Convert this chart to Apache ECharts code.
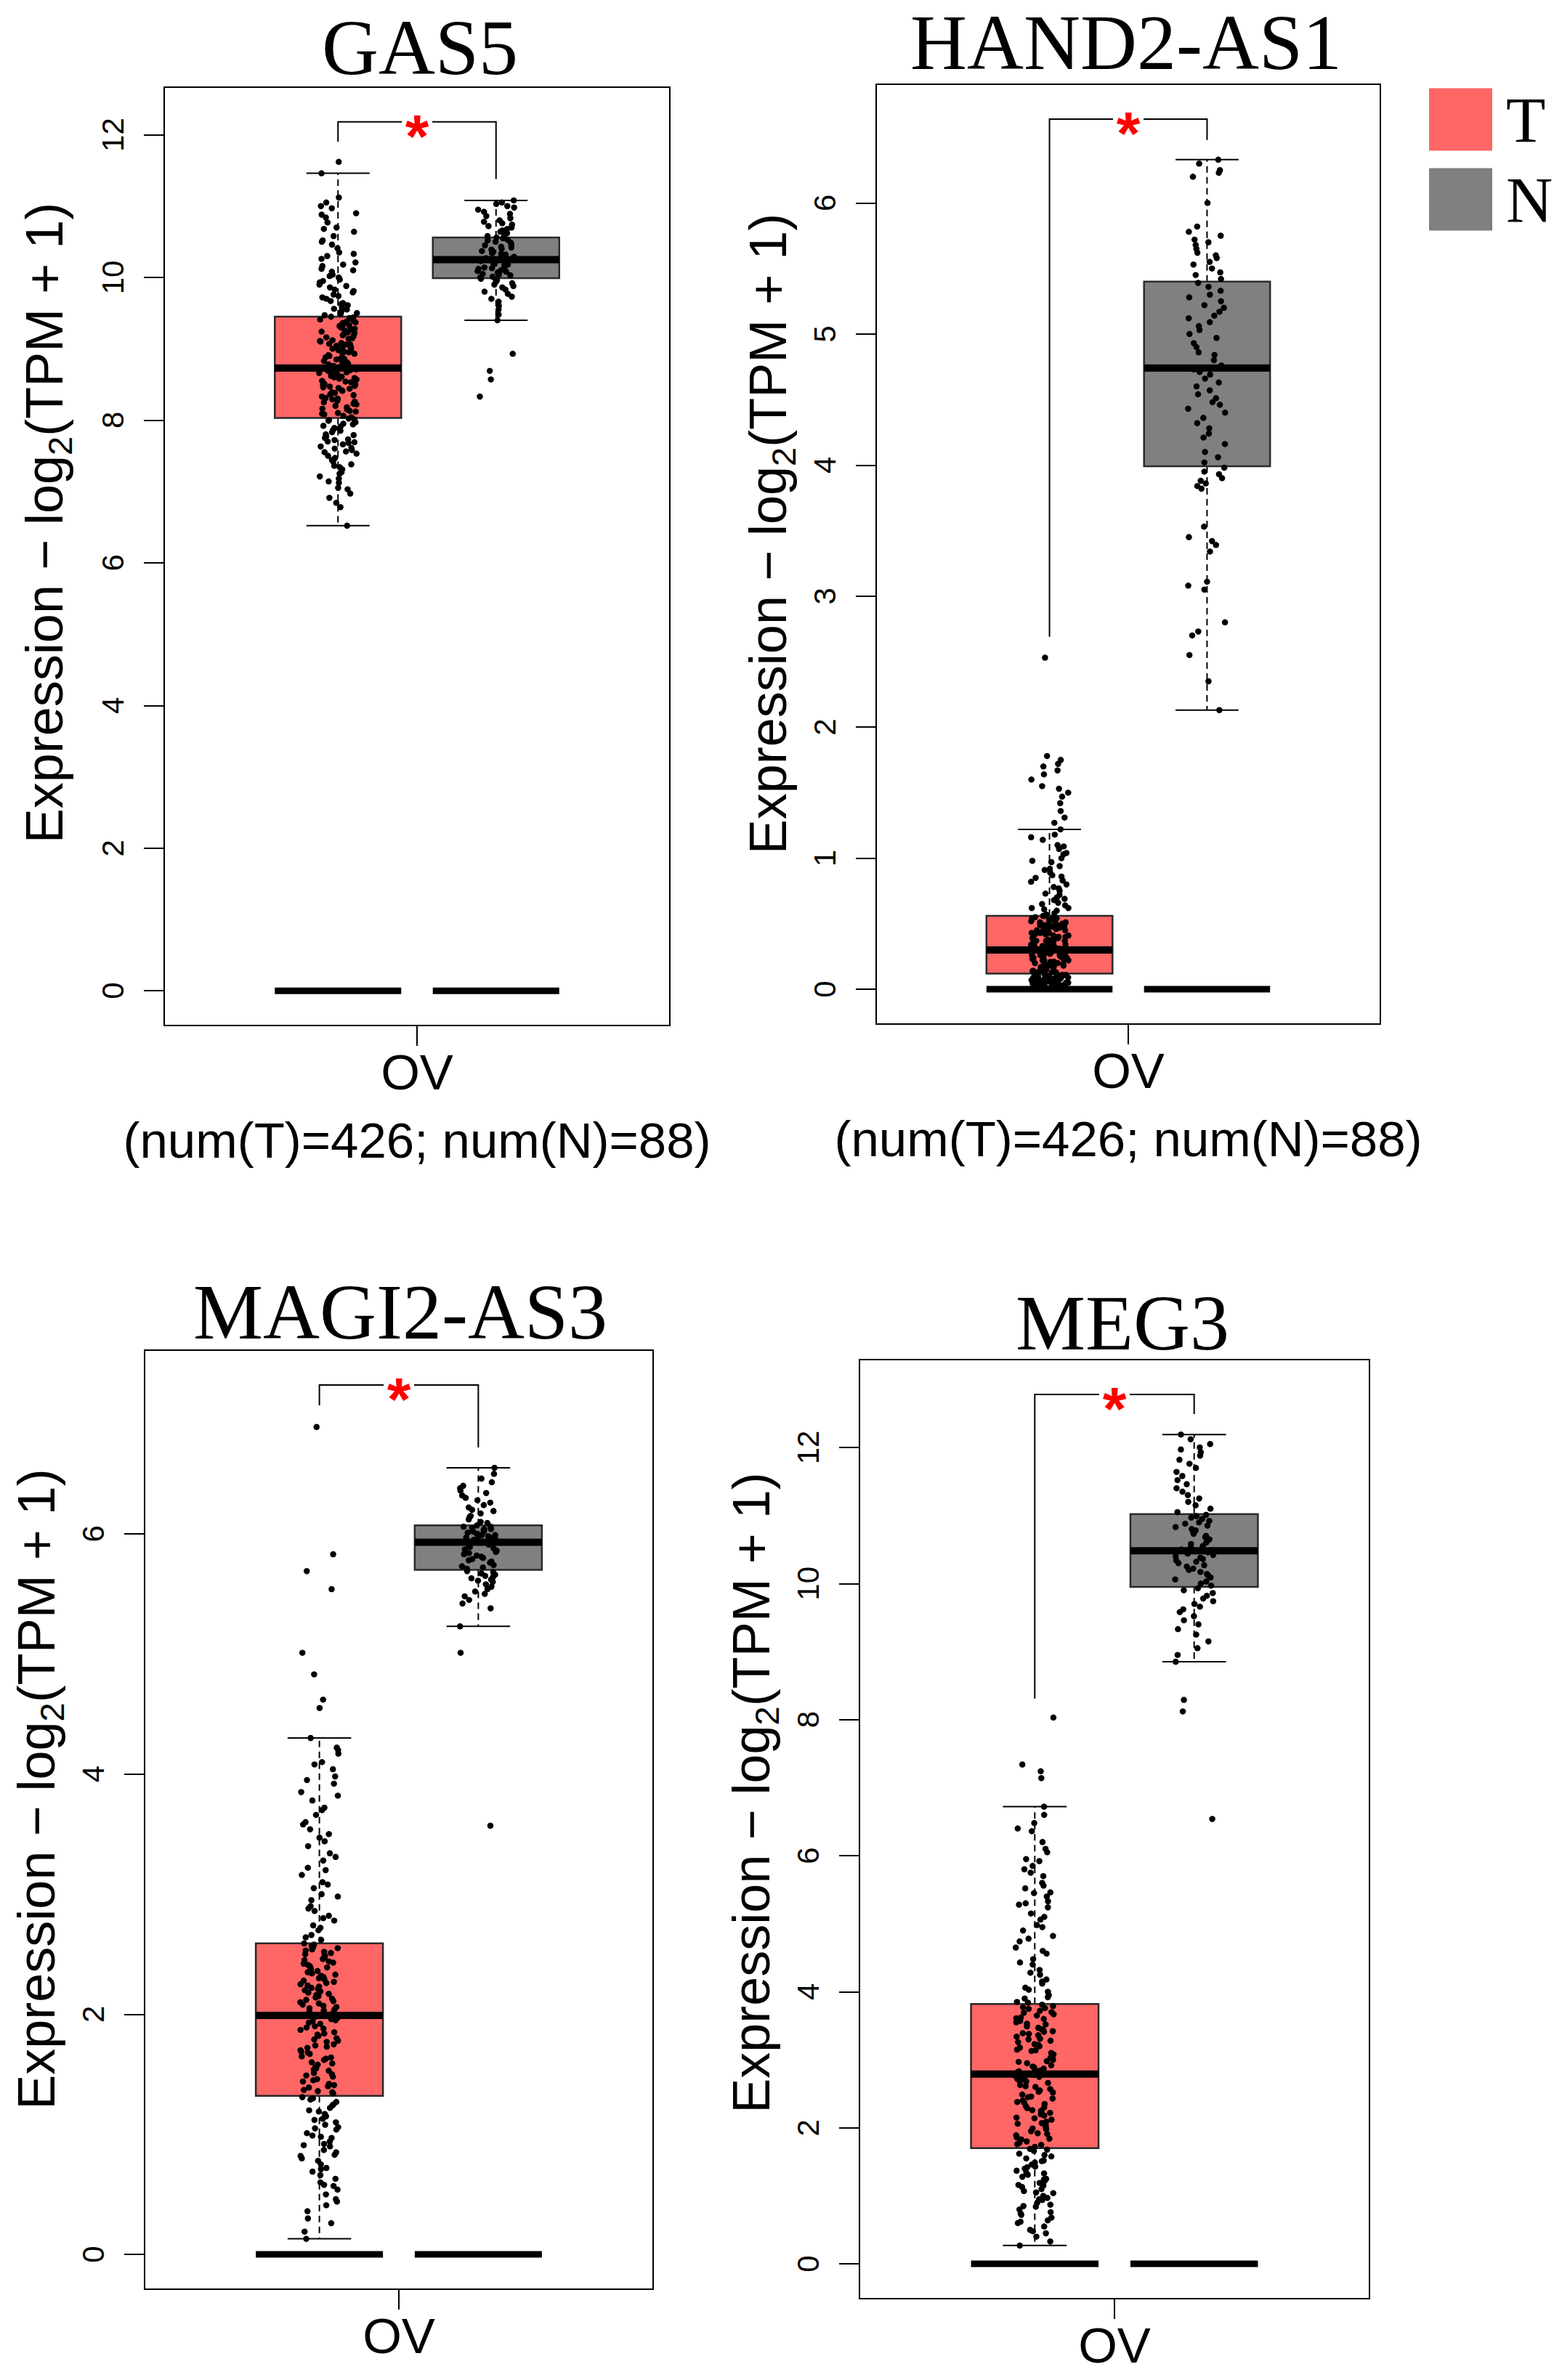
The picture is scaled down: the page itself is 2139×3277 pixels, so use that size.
<!DOCTYPE html>
<html>
<head>
<meta charset="utf-8">
<title>lncRNA expression in OV</title>
<script src="https://cdn.jsdelivr.net/npm/echarts@6/dist/echarts.min.js"></script>
<style>
html, body { margin: 0; padding: 0; background: #fff; }
#main { width: 2139px; height: 3277px; }
</style>
</head>
<body>
<div id="main"></div>
<script>
// panels and groups
var genes = ['GAS5', 'HAND2-AS1', 'MAGI2-AS3', 'MEG3'];
var groupNames = ['T', 'N'];
var cancerType = 'OV';
var countText = '(num(T)=426; num(N)=88)';

// y tick labels
var gas5Ticks = [0, 2, 4, 6, 8, 10, 12];
var hand2Ticks = [0, 1, 2, 3, 4, 5, 6];
var magi2Ticks = [0, 2, 4, 6];
var meg3Ticks = [0, 2, 4, 6, 8, 10, 12];

// box stats [lower whisker, Q1, median, Q3, upper whisker]
var gas5TBox = [6.52, 8.03, 8.73, 9.45, 11.46];
var gas5NBox = [9.40, 9.99, 10.25, 10.56, 11.08];
var hand2TBox = [0.0, 0.12, 0.30, 0.56, 1.22];
var hand2NBox = [2.13, 3.99, 4.74, 5.40, 6.33];
var magi2TBox = [0.13, 1.32, 1.99, 2.59, 4.30];
var magi2NBox = [5.23, 5.70, 5.93, 6.07, 6.55];
var meg3TBox = [0.27, 1.70, 2.79, 3.82, 6.72];
var meg3NBox = [8.85, 9.95, 10.48, 11.02, 12.19];

// significance bracket [top, left end, right end]
var gas5Bracket = [12.18, 11.90, 11.38];
var hand2Bracket = [6.64, 2.69, 6.48];
var magi2Bracket = [7.24, 7.07, 6.72];
var meg3Bracket = [12.78, 8.31, 12.49];

// sample points
var gas5T = [6.52, 6.78, 6.84, 6.91, 6.97, 7.03, 7.05, 7.12, 7.18, 7.21, 7.27, 7.31, 7.36, 7.38, 7.44, 7.47, 7.5, 7.53, 7.56, 7.58,
  7.61, 7.63, 7.66, 7.69, 7.7, 7.73, 7.75, 7.79, 7.8, 7.83, 7.85, 7.86, 7.89, 7.91, 7.92, 7.95, 7.97, 7.99, 8.0, 8.02,
  8.04, 8.06, 8.09, 8.1, 8.13, 8.15, 8.16, 8.2, 8.22, 8.23, 8.27, 8.29, 8.3, 8.33, 8.35, 8.36, 8.39, 8.41, 8.42, 8.45,
  8.47, 8.48, 8.5, 8.51, 8.54, 8.55, 8.57, 8.58, 8.6, 8.61, 8.63, 8.64, 8.66, 8.67, 8.68, 8.69, 8.7, 8.71, 8.72, 8.73,
  8.74, 8.76, 8.77, 8.79, 8.8, 8.82, 8.83, 8.85, 8.87, 8.88, 8.9, 8.93, 8.94, 8.96, 8.99, 9.0, 9.02, 9.04, 9.07, 9.08,
  9.1, 9.12, 9.15, 9.16, 9.18, 9.2, 9.23, 9.24, 9.26, 9.28, 9.3, 9.32, 9.34, 9.36, 9.37, 9.39, 9.41, 9.42, 9.44, 9.45,
  9.47, 9.5, 9.53, 9.55, 9.58, 9.61, 9.63, 9.67, 9.7, 9.72, 9.76, 9.79, 9.83, 9.86, 9.9, 9.93, 9.97, 10.0, 10.04, 10.08,
  10.12, 10.16, 10.21, 10.26, 10.3, 10.35, 10.41, 10.46, 10.52, 10.58, 10.64, 10.7, 10.77, 10.84, 10.9, 10.97, 11.05, 11.12, 11.46, 11.62,
  7.42, 7.55, 7.68, 7.77, 7.88, 7.94, 8.01, 8.08, 8.12, 8.18, 8.25, 8.31, 8.38, 8.44, 8.49, 8.53, 8.59, 8.62, 8.65, 8.7,
  8.75, 8.78, 8.81, 8.86, 8.91, 8.95, 8.98, 9.03, 9.06, 9.11, 9.14, 9.19, 9.22, 9.27, 9.33, 9.38, 9.43, 9.49, 9.56, 9.64,
  9.74, 9.81, 9.88, 9.95, 10.02, 10.1, 10.18, 10.33, 10.5, 10.68, 10.88, 11.0, 7.14, 7.25, 7.34, 7.6, 7.72, 8.26, 8.46, 9.06];
var gas5N = [8.33, 8.57, 8.69, 8.93, 9.4, 9.48, 9.55, 9.6, 9.66, 9.7, 9.73, 9.77, 9.8, 9.83, 9.86, 9.88, 9.9, 9.92, 9.94, 9.96, 9.97, 9.98,
  10.0, 10.01, 10.03, 10.04, 10.05, 10.07, 10.08, 10.09, 10.1, 10.12, 10.13, 10.14, 10.15, 10.17, 10.18, 10.19, 10.2, 10.21, 10.22, 10.23, 10.24, 10.25,
  10.26, 10.27, 10.29, 10.3, 10.32, 10.33, 10.34, 10.36, 10.37, 10.39, 10.4, 10.42, 10.43, 10.45, 10.46, 10.48, 10.49, 10.5, 10.52, 10.53, 10.55, 10.56,
  10.58, 10.6, 10.62, 10.64, 10.66, 10.68, 10.7, 10.72, 10.74, 10.76, 10.78, 10.8, 10.83, 10.86, 10.89, 10.92, 10.95, 10.98, 11.0, 11.03, 11.05, 11.08];
var hand2T = [0.01, 0.01, 0.02, 0.02, 0.02, 0.03, 0.03, 0.03, 0.04, 0.04, 0.04, 0.05, 0.05, 0.05, 0.06, 0.06, 0.06, 0.07, 0.07, 0.07,
  0.08, 0.08, 0.08, 0.08, 0.09, 0.09, 0.09, 0.09, 0.1, 0.1, 0.1, 0.1, 0.11, 0.11, 0.11, 0.11, 0.12, 0.12, 0.12, 0.12,
  0.13, 0.13, 0.14, 0.14, 0.15, 0.15, 0.16, 0.16, 0.17, 0.17, 0.18, 0.18, 0.19, 0.19, 0.2, 0.2, 0.21, 0.21, 0.22, 0.22,
  0.23, 0.23, 0.24, 0.24, 0.25, 0.25, 0.25, 0.26, 0.26, 0.26, 0.27, 0.27, 0.27, 0.28, 0.28, 0.28, 0.29, 0.29, 0.3, 0.3,
  0.31, 0.31, 0.32, 0.33, 0.33, 0.34, 0.35, 0.35, 0.36, 0.37, 0.37, 0.38, 0.39, 0.39, 0.4, 0.41, 0.41, 0.42, 0.43, 0.43,
  0.44, 0.45, 0.45, 0.46, 0.47, 0.47, 0.48, 0.49, 0.49, 0.5, 0.51, 0.51, 0.52, 0.53, 0.53, 0.54, 0.55, 0.55, 0.56, 0.56,
  0.58, 0.6, 0.62, 0.64, 0.66, 0.68, 0.7, 0.72, 0.75, 0.78, 0.8, 0.83, 0.86, 0.89, 0.91, 0.94, 0.97, 1.0, 1.04, 1.07,
  1.1, 1.14, 1.18, 1.22, 1.27, 1.31, 1.36, 1.42, 1.47, 1.5, 1.53, 1.55, 1.6, 1.64, 1.67, 1.7, 1.72, 1.75, 1.78, 2.53,
  0.02, 0.03, 0.04, 0.05, 0.06, 0.07, 0.08, 0.09, 0.1, 0.11, 0.13, 0.15, 0.16, 0.18, 0.19, 0.21, 0.23, 0.24, 0.26, 0.28,
  0.3, 0.32, 0.34, 0.36, 0.38, 0.4, 0.42, 0.44, 0.46, 0.48, 0.5, 0.52, 0.54, 0.57, 0.61, 0.65, 0.69, 0.73, 0.77, 0.82,
  0.87, 0.92, 0.98, 1.03, 1.09, 1.16, 0.03, 0.05, 0.07, 0.09, 0.14, 0.17, 0.22, 0.27, 0.33, 0.37, 0.43, 0.49, 0.62, 0.85];
var hand2N = [2.13, 2.35, 2.55, 2.7, 2.73, 2.8, 3.05, 3.08, 3.11, 3.34, 3.39, 3.42, 3.45, 3.53, 3.82, 3.84, 3.86, 3.88, 3.9, 3.93, 3.95, 3.98,
  4.02, 4.06, 4.1, 4.16, 4.21, 4.24, 4.28, 4.32, 4.36, 4.4, 4.43, 4.46, 4.48, 4.51, 4.54, 4.57, 4.6, 4.63, 4.66, 4.69, 4.71, 4.73,
  4.76, 4.8, 4.84, 4.86, 4.9, 4.93, 4.97, 5.0, 5.03, 5.06, 5.09, 5.12, 5.14, 5.17, 5.2, 5.22, 5.25, 5.28, 5.3, 5.33, 5.36, 5.39,
  5.42, 5.45, 5.47, 5.5, 5.53, 5.55, 5.58, 5.6, 5.62, 5.65, 5.68, 5.7, 5.72, 5.75, 5.78, 5.82, 6.0, 6.2, 6.23, 6.25, 6.3, 6.33];
var magi2T = [0.13, 0.19, 0.26, 0.3, 0.36, 0.41, 0.46, 0.5, 0.54, 0.57, 0.6, 0.63, 0.66, 0.69, 0.72, 0.75, 0.78, 0.8, 0.83, 0.85,
  0.87, 0.9, 0.92, 0.94, 0.97, 0.99, 1.01, 1.04, 1.06, 1.08, 1.1, 1.13, 1.15, 1.17, 1.2, 1.22, 1.25, 1.27, 1.29, 1.31,
  1.34, 1.36, 1.37, 1.39, 1.41, 1.42, 1.44, 1.46, 1.48, 1.5, 1.51, 1.53, 1.55, 1.56, 1.58, 1.6, 1.62, 1.63, 1.65, 1.67,
  1.68, 1.7, 1.72, 1.73, 1.75, 1.77, 1.78, 1.8, 1.82, 1.84, 1.85, 1.87, 1.89, 1.9, 1.92, 1.93, 1.95, 1.96, 1.97, 1.99,
  2.0, 2.02, 2.03, 2.05, 2.06, 2.08, 2.09, 2.11, 2.12, 2.14, 2.15, 2.17, 2.18, 2.2, 2.21, 2.23, 2.24, 2.26, 2.27, 2.29,
  2.3, 2.32, 2.33, 2.35, 2.36, 2.38, 2.39, 2.41, 2.42, 2.44, 2.45, 2.47, 2.48, 2.5, 2.51, 2.53, 2.54, 2.56, 2.57, 2.59,
  2.62, 2.66, 2.7, 2.74, 2.78, 2.82, 2.86, 2.9, 2.95, 3.0, 3.05, 3.1, 3.16, 3.22, 3.28, 3.34, 3.4, 3.47, 3.5, 3.54,
  3.6, 3.66, 3.72, 3.78, 3.85, 3.92, 3.98, 4.04, 4.1, 4.17, 4.22, 4.3, 4.55, 4.62, 4.83, 5.01, 5.54, 5.69, 5.83, 6.89,
  0.44, 0.58, 0.71, 0.82, 0.91, 0.98, 1.05, 1.12, 1.19, 1.24, 1.3, 1.35, 1.4, 1.45, 1.49, 1.54, 1.59, 1.64, 1.69, 1.74,
  1.79, 1.83, 1.88, 1.94, 1.98, 2.01, 2.04, 2.07, 2.1, 2.13, 2.16, 2.19, 2.22, 2.25, 2.28, 2.31, 2.34, 2.37, 2.4, 2.43,
  2.46, 2.49, 2.52, 2.55, 2.58, 2.64, 2.72, 2.8, 2.88, 2.98, 3.08, 3.2, 3.31, 3.44, 3.58, 3.7, 3.82, 3.95, 4.08, 4.2];
var magi2N = [3.57, 5.01, 5.23, 5.38, 5.42, 5.45, 5.48, 5.5, 5.52, 5.54, 5.56, 5.58, 5.6, 5.61, 5.62, 5.63, 5.64, 5.65, 5.66, 5.67, 5.68, 5.69,
  5.71, 5.72, 5.73, 5.74, 5.76, 5.77, 5.78, 5.79, 5.8, 5.81, 5.82, 5.83, 5.84, 5.85, 5.86, 5.87, 5.88, 5.89, 5.9, 5.91, 5.92, 5.93,
  5.94, 5.94, 5.95, 5.96, 5.96, 5.97, 5.97, 5.98, 5.99, 5.99, 6.0, 6.0, 6.01, 6.02, 6.02, 6.03, 6.04, 6.04, 6.05, 6.06, 6.06, 6.07,
  6.09, 6.1, 6.12, 6.14, 6.15, 6.17, 6.19, 6.2, 6.22, 6.24, 6.26, 6.28, 6.3, 6.32, 6.34, 6.36, 6.38, 6.4, 6.43, 6.46, 6.5, 6.55];
var meg3T = [0.27, 0.33, 0.4, 0.45, 0.5, 0.55, 0.6, 0.64, 0.68, 0.72, 0.76, 0.8, 0.84, 0.87, 0.9, 0.94, 0.97, 1.0, 1.04, 1.07,
  1.1, 1.13, 1.16, 1.19, 1.22, 1.25, 1.28, 1.31, 1.34, 1.37, 1.4, 1.43, 1.46, 1.49, 1.52, 1.55, 1.58, 1.62, 1.66, 1.69,
  1.72, 1.75, 1.78, 1.8, 1.83, 1.86, 1.89, 1.92, 1.95, 1.98, 2.0, 2.03, 2.06, 2.09, 2.12, 2.15, 2.18, 2.2, 2.23, 2.26,
  2.29, 2.32, 2.35, 2.38, 2.4, 2.43, 2.46, 2.49, 2.52, 2.55, 2.57, 2.6, 2.63, 2.66, 2.68, 2.7, 2.72, 2.74, 2.76, 2.78,
  2.81, 2.84, 2.87, 2.89, 2.92, 2.95, 2.97, 3.0, 3.03, 3.05, 3.08, 3.1, 3.13, 3.15, 3.18, 3.2, 3.23, 3.26, 3.28, 3.31,
  3.34, 3.36, 3.39, 3.41, 3.44, 3.47, 3.49, 3.52, 3.55, 3.57, 3.6, 3.62, 3.65, 3.67, 3.7, 3.72, 3.75, 3.77, 3.79, 3.81,
  3.85, 3.9, 3.95, 4.0, 4.06, 4.12, 4.18, 4.25, 4.32, 4.4, 4.48, 4.56, 4.65, 4.74, 4.82, 4.9, 4.98, 5.06, 5.15, 5.24,
  5.28, 5.33, 5.4, 5.46, 5.52, 5.6, 5.7, 5.8, 5.85, 5.92, 6.05, 6.2, 6.36, 6.48, 6.6, 6.72, 7.14, 7.24, 7.34, 8.03,
  0.48, 0.62, 0.74, 0.85, 0.95, 1.05, 1.15, 1.24, 1.33, 1.42, 1.51, 1.6, 1.68, 1.76, 1.84, 1.91, 1.99, 2.07, 2.14, 2.22,
  2.3, 2.37, 2.45, 2.53, 2.61, 2.69, 2.75, 2.83, 2.9, 2.98, 3.06, 3.14, 3.22, 3.3, 3.38, 3.45, 3.53, 3.61, 3.69, 3.76,
  3.84, 3.92, 4.03, 4.15, 4.28, 4.43, 4.6, 4.78, 4.95, 5.1, 5.3, 5.45, 5.56, 5.75, 5.95, 6.1, 6.4, 2.25, 2.85, 3.42];
var meg3N = [6.54, 8.12, 8.29, 8.85, 8.95, 9.05, 9.15, 9.25, 9.33, 9.4, 9.46, 9.52, 9.58, 9.62, 9.66, 9.7, 9.74, 9.78, 9.82, 9.86, 9.9, 9.93,
  9.97, 10.0, 10.03, 10.06, 10.09, 10.12, 10.14, 10.17, 10.2, 10.22, 10.25, 10.27, 10.3, 10.32, 10.34, 10.36, 10.38, 10.4, 10.42, 10.44, 10.46, 10.47,
  10.5, 10.53, 10.55, 10.58, 10.6, 10.63, 10.65, 10.68, 10.7, 10.73, 10.75, 10.78, 10.8, 10.83, 10.85, 10.88, 10.9, 10.92, 10.95, 10.97, 10.99, 11.01,
  11.05, 11.1, 11.15, 11.2, 11.25, 11.3, 11.35, 11.4, 11.46, 11.52, 11.58, 11.64, 11.7, 11.76, 11.82, 11.88, 11.93, 11.97, 12.0, 12.05, 12.12, 12.19];

// layout of the four plot boxes (pixels)
var layout = [
    { left: 226, top: 120, width: 696, height: 1292, titleX: 578, titleY: 65, nameGap: 120, nameShift: 46, counts: true },
    { left: 1206, top: 116, width: 694, height: 1294, titleX: 1550, titleY: 58, nameGap: 104, nameShift: 28, counts: true },
    { left: 199, top: 1859, width: 700, height: 1293, titleX: 551, titleY: 1806, nameGap: 104, nameShift: 42, counts: false },
    { left: 1183, top: 1872, width: 702, height: 1293, titleX: 1545, titleY: 1821, nameGap: 104, nameShift: 50, counts: false }
];

var panels = [
    { ticks: gas5Ticks, tBox: gas5TBox, nBox: gas5NBox, bracket: gas5Bracket, t: gas5T, n: gas5N },
    { ticks: hand2Ticks, tBox: hand2TBox, nBox: hand2NBox, bracket: hand2Bracket, t: hand2T, n: hand2N },
    { ticks: magi2Ticks, tBox: magi2TBox, nBox: magi2NBox, bracket: magi2Bracket, t: magi2T, n: magi2N },
    { ticks: meg3Ticks, tBox: meg3TBox, nBox: meg3NBox, bracket: meg3Bracket, t: meg3T, n: meg3N }
];

var colorT = '#FF6666';
var colorN = '#808080';
var sansFont = '"Liberation Sans", Arial, sans-serif';
var serifFont = '"Liberation Serif", "Times New Roman", serif';
var groupX = [-0.5, 0.5];

function renderBox(params, api) {
    var cx = api.value(0);
    var half = 0.4, capHalf = 0.2;
    var low = api.coord([cx, api.value(1)]);
    var q1 = api.coord([cx, api.value(2)]);
    var med = api.coord([cx, api.value(3)]);
    var q3 = api.coord([cx, api.value(4)]);
    var high = api.coord([cx, api.value(5)]);
    var xl = api.coord([cx - half, 0])[0];
    var xr = api.coord([cx + half, 0])[0];
    var cl = api.coord([cx - capHalf, 0])[0];
    var cr = api.coord([cx + capHalf, 0])[0];
    var zeroY = api.coord([cx, 0])[1];
    var dash = { stroke: '#000', lineWidth: 2, lineDash: [9, 6] };
    var solid = { stroke: '#000', lineWidth: 2 };
    return {
        type: 'group',
        children: [
            { type: 'line', shape: { x1: q3[0], y1: q3[1], x2: high[0], y2: high[1] }, style: dash },
            { type: 'line', shape: { x1: q1[0], y1: q1[1], x2: low[0], y2: low[1] }, style: dash },
            { type: 'line', shape: { x1: cl, y1: high[1], x2: cr, y2: high[1] }, style: solid },
            { type: 'line', shape: { x1: cl, y1: low[1], x2: cr, y2: low[1] }, style: solid },
            { type: 'rect', shape: { x: xl, y: q3[1], width: xr - xl, height: q1[1] - q3[1] },
              style: { fill: api.visual('color'), stroke: '#2a2a2a', lineWidth: 2.5 } },
            { type: 'line', shape: { x1: xl, y1: med[1], x2: xr, y2: med[1] }, style: { stroke: '#000', lineWidth: 10 } },
            { type: 'line', shape: { x1: xl, y1: zeroY, x2: xr, y2: zeroY }, style: { stroke: '#000', lineWidth: 9 } }
        ]
    };
}

function renderBracket(params, api) {
    var top = api.value(0);
    var a = api.coord([groupX[0], api.value(1)]);
    var b = api.coord([groupX[0], top]);
    var c = api.coord([groupX[1], top]);
    var d = api.coord([groupX[1], api.value(2)]);
    var mid = api.coord([0, top]);
    var gap = 21;
    var line = { stroke: '#000', lineWidth: 2, fill: null };
    return {
        type: 'group',
        children: [
            { type: 'polyline', shape: { points: [a, b, [mid[0] - gap, b[1]]] }, style: line },
            { type: 'polyline', shape: { points: [[mid[0] + gap, c[1]], c, d] }, style: line },
            { type: 'text', x: mid[0], y: mid[1] + 20,
              style: { text: '*', fill: '#FF0000', font: 'bold 84px ' + sansFont, align: 'center', verticalAlign: 'middle' } }
        ]
    };
}

// horizontal jitter only (visual spread of the dots, like R's jitter)
function jitterPoints(values, center, seed) {
    return values.map(function (v, i) {
        var h = Math.sin((i + 1) * 12.9898 + seed * 78.233) * 43758.5453;
        var f = h - Math.floor(h);
        return [center + (f - 0.5) * 0.24, v];
    });
}

var grids = [], xAxes = [], yAxes = [], series = [], graphics = [];

panels.forEach(function (p, k) {
    var L = layout[k];
    var B = p.bracket[0];
    grids.push({
        left: L.left, top: L.top, width: L.width, height: L.height,
        show: true, borderColor: '#000', borderWidth: 2, backgroundColor: 'transparent'
    });
    xAxes.push({
        type: 'value', gridIndex: k, min: -1.6, max: 1.6,
        axisLine: { show: false, onZero: false },
        splitLine: { show: false },
        axisTick: { show: true, customValues: [0], length: 28, lineStyle: { color: '#000', width: 2 } },
        axisLabel: {
            show: true, customValues: [0], margin: 17,
            fontFamily: sansFont, fontSize: 69, lineHeight: 94, color: '#000',
            formatter: function () { return L.counts ? cancerType + '\n' + countText : cancerType; }
        }
    });
    yAxes.push({
        type: 'value', gridIndex: k, min: -0.04 * B, max: 1.04 * B,
        axisLine: { show: false, onZero: false },
        splitLine: { show: false },
        axisTick: { show: true, customValues: p.ticks, length: 28, lineStyle: { color: '#000', width: 2 } },
        axisLabel: {
            show: true, customValues: p.ticks, rotate: 90, margin: 50,
            fontFamily: sansFont, fontSize: 42, color: '#000'
        },
        name: '{m|Expression \u2212 log}{s|2}{m|(TPM + 1)}',
        nameLocation: 'middle', nameRotate: 90, nameGap: L.nameGap,
        nameTextStyle: {
            padding: [0, 0, 0, 2 * L.nameShift],
            rich: {
                m: { fontFamily: sansFont, fontSize: 72, lineHeight: 90, color: '#000' },
                s: { fontFamily: sansFont, fontSize: 47, lineHeight: 47, color: '#000', verticalAlign: 'bottom' }
            }
        }
    });

    series.push({
        name: groupNames[0], type: 'custom', xAxisIndex: k, yAxisIndex: k, z: 2,
        itemStyle: { color: colorT }, silent: true,
        renderItem: renderBox,
        data: [[groupX[0]].concat(p.tBox)]
    });
    series.push({
        name: groupNames[1], type: 'custom', xAxisIndex: k, yAxisIndex: k, z: 2,
        itemStyle: { color: colorN }, silent: true,
        renderItem: renderBox,
        data: [[groupX[1]].concat(p.nBox)]
    });
    series.push({
        type: 'custom', xAxisIndex: k, yAxisIndex: k, z: 2, silent: true,
        renderItem: renderBracket,
        data: [p.bracket]
    });
    series.push({
        type: 'scatter', xAxisIndex: k, yAxisIndex: k, z: 4, silent: true,
        symbolSize: 8.5, itemStyle: { color: '#000', opacity: 1 },
        data: jitterPoints(p.t, groupX[0], k * 2 + 1).concat(jitterPoints(p.n, groupX[1], k * 2 + 2))
    });

    graphics.push({
        type: 'text', x: L.titleX, y: L.titleY,
        style: { text: genes[k], font: '108px ' + serifFont, fill: '#000', align: 'center', verticalAlign: 'middle' }
    });
});

var chart = echarts.init(document.getElementById('main'), null, { renderer: 'svg' });
chart.setOption({
    animation: false,
    backgroundColor: '#fff',
    grid: grids,
    xAxis: xAxes,
    yAxis: yAxes,
    legend: {
        orient: 'vertical', left: 1967, top: 120, padding: 0,
        icon: 'rect', itemWidth: 87, itemHeight: 86, itemGap: 21,
        selectedMode: false,
        textStyle: { fontFamily: serifFont, fontSize: 89, color: '#000', padding: [0, 0, 0, 14] },
        data: [
            { name: groupNames[0], itemStyle: { color: colorT } },
            { name: groupNames[1], itemStyle: { color: colorN } }
        ]
    },
    graphic: graphics,
    series: series
});
</script>
</body>
</html>
